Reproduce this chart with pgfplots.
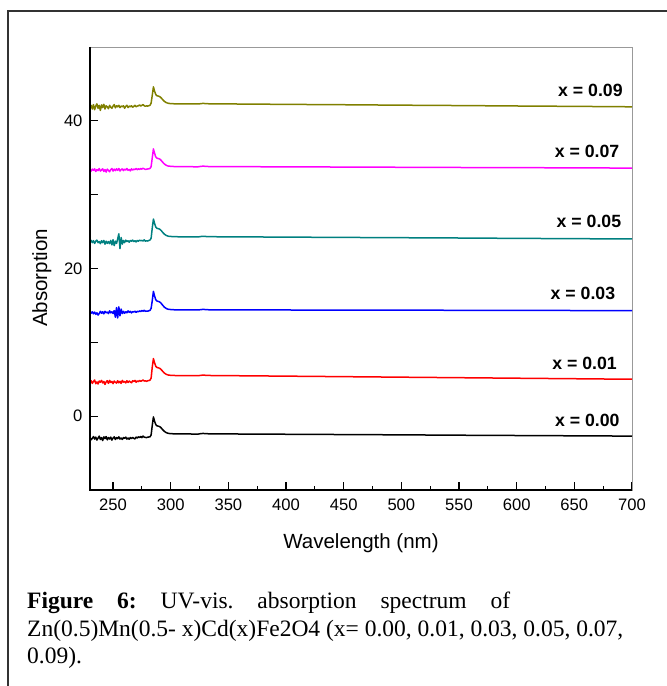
\documentclass[border=0pt]{standalone}
\usepackage{fontspec}
\setmainfont{Liberation Sans}
\newfontfamily\capfont{Liberation Serif}
\usepackage{pgfplots}
\usepackage{pgfplotstable}
\pgfplotsset{compat=1.18}
\definecolor{olivec}{RGB}{128,128,0}
\definecolor{tealc}{RGB}{0,128,128}
\definecolor{magc}{RGB}{255,0,255}

% UV-vis absorption spectra, one column per Cd content (curves stacked by offset)
\pgfplotstableread{
wl   k      r     b      t      m      o
230 -2.90  4.50  14.20  23.60  33.40  41.70
231 -3.20  4.80  13.94  23.80  33.20  42.10
232 -3.00  4.44  14.14  23.50  33.46  41.60
233 -2.76  4.70  13.86  23.76  33.30  42.20
234 -3.10  4.90  14.10  23.40  33.50  41.50
235 -2.84  4.40  13.80  23.70  33.14  42.00
236 -3.24  4.64  14.00  23.84  33.40  42.30
237 -2.96  4.36  13.70  23.50  33.26  41.70
238 -2.70  4.76  13.90  23.64  33.54  42.10
239 -3.16  4.60  14.20  23.36  33.20  41.40
240 -2.90  4.84  13.94  23.76  33.34  42.16
241 -3.30  4.50  14.14  23.50  33.50  41.80
242 -2.80  4.70  13.86  23.80  33.14  42.24
243 -3.04  4.30  14.20  23.30  33.40  41.60
244 -2.76  4.64  14.00  23.70  33.06  42.04
245 -3.20  4.80  14.10  23.40  33.46  41.90
246 -2.90  4.44  13.90  23.64  33.30  41.64
247 -3.10  4.84  14.26  23.36  33.10  42.10
248 -2.84  4.56  14.00  23.80  33.40  41.84
249 -3.24  4.70  14.14  23.20  33.54  41.70
250 -2.96  4.40  13.90  23.90  33.20  42.00
251 -2.80  4.76  14.30  23.10  33.46  42.20
252 -3.16  4.60  13.40  23.70  33.26  41.76
253 -2.90  4.48  14.70  23.40  33.50  42.04
254 -3.04  4.80  13.30  24.00  33.30  41.90
255 -2.80  4.52  14.80  24.70  33.54  42.10
256 -3.10  4.72  13.60  22.70  33.20  41.80
257 -2.96  4.44  14.50  24.20  33.40  42.00
258 -3.16  4.84  13.90  23.30  33.50  41.90
259 -2.90  4.60  14.20  23.80  33.26  42.04
260 -3.00  4.70  13.94  23.50  33.46  41.70
261 -2.84  4.50  14.14  23.84  33.34  41.96
262 -3.10  4.80  14.00  23.64  33.54  42.10
263 -2.96  4.56  14.26  23.76  33.30  41.80
264 -3.12  4.76  14.06  23.56  33.42  42.00
265 -2.90  4.64  14.20  23.80  33.22  41.90
266 -3.04  4.52  13.98  23.70  33.50  42.04
267 -2.88  4.80  14.16  23.84  33.34  41.84
268 -3.00  4.70  14.10  23.64  33.46  41.96
269 -3.08  4.84  14.22  23.76  33.40  42.10
270 -2.84  4.60  14.06  23.60  33.54  41.90
271 -2.96  4.76  14.20  23.80  33.38  42.00
272 -2.80  4.68  14.14  23.70  33.50  42.04
273 -2.90  4.84  14.26  23.84  33.42  42.16
274 -2.76  4.72  14.18  23.76  33.54  42.00
275 -2.90  4.80  14.30  23.80  33.46  42.10
276 -2.70  4.90  14.22  23.72  33.58  42.20
277 -2.84  4.76  14.34  23.88  33.50  42.04
278 -2.88  4.78  14.20  23.70  33.42  41.98
279 -2.90  4.72  14.24  23.76  33.45  42.02
280 -2.85  4.80  14.22  23.72  33.48  42.00
281 -2.82  4.82  14.28  23.80  33.50  42.05
282 -2.80  4.88  14.32  23.85  33.55  42.10
283 -2.55  5.15  14.60  24.10  33.80  42.40
284 -1.25  6.65  15.65  25.50  35.00  43.45
285 -0.10  7.80  16.90  26.70  36.20  44.60
286 -0.68  7.22  16.28  26.10  35.60  44.02
287 -1.13  6.77  15.78  25.62  35.12  43.57
288 -1.30  6.60  15.60  25.45  34.95  43.40
289 -1.34  6.56  15.55  25.40  34.90  43.36
290 -1.39  6.51  15.50  25.36  34.86  43.31
291 -1.48  6.42  15.40  25.26  34.76  43.22
292 -1.64  6.26  15.23  25.09  34.59  43.06
293 -1.83  6.08  15.03  24.90  34.40  42.88
294 -1.99  5.91  14.85  24.73  34.23  42.71
295 -2.12  5.78  14.70  24.59  34.09  42.58
296 -2.22  5.68  14.60  24.49  33.99  42.48
297 -2.28  5.62  14.52  24.42  33.92  42.42
298 -2.33  5.57  14.48  24.37  33.87  42.37
300 -2.37  5.53  14.44  24.34  33.84  42.33
303 -2.39  5.51  14.41  24.31  33.81  42.31
306 -2.40  5.50  14.40  24.30  33.80  42.30
310 -2.40  5.50  14.40  24.30  33.80  42.30
315 -2.41  5.49  14.39  24.29  33.79  42.29
320 -2.42  5.48  14.38  24.28  33.78  42.28
324 -2.42  5.48  14.38  24.28  33.78  42.28
326 -2.37  5.53  14.43  24.33  33.83  42.33
328 -2.34  5.56  14.46  24.36  33.86  42.36
330 -2.36  5.54  14.44  24.34  33.84  42.34
333 -2.39  5.51  14.41  24.31  33.81  42.31
340 -2.40  5.50  14.40  24.30  33.80  42.30
400 -2.45  5.42  14.38  24.25  33.77  42.23
450 -2.49  5.35  14.37  24.21  33.74  42.18
500 -2.53  5.28  14.36  24.17  33.71  42.12
550 -2.58  5.21  14.34  24.13  33.68  42.07
600 -2.62  5.14  14.33  24.08  33.66  42.01
650 -2.66  5.07  14.31  24.04  33.63  41.96
700 -2.70  5.00  14.30  24.00  33.60  41.90
}\spectra

\begin{document}
\frenchspacing
\begin{tikzpicture}[x=1pt,y=1pt]
\useasboundingbox (0,0) rectangle (667,686);
% outer frame of the figure box
\draw[line width=1.6pt, black!80] (8,0) -- (8,675) -- (667,675);
\begin{axis}[
  at={(90pt,196pt)}, anchor=south west,
  scale only axis, width=542pt, height=443pt,
  xmin=230, xmax=700, ymin=-10, ymax=50,
  xtick={250,300,...,700}, minor xtick={275,325,...,675},
  ytick={0,10,20,30,40}, yticklabels={0,,20,,40},
  tick align=inside, xtick pos=bottom, ytick pos=left,
  major tick length=8pt, minor tick length=4pt,
  every tick/.style={black, line width=1.2pt},
  axis line style={black!40, line width=0.8pt},
  /pgf/number format/assume math mode=true,
  tick label style={font=\fontsize{16.6}{20}\selectfont},
  xticklabel style={anchor=base, yshift=-21pt},
  yticklabel style={anchor=east, xshift=-4pt},
  every axis x label/.style={at={(axis description cs:0.5,-0.131)}, anchor=base,
    font=\fontsize{20.5}{24}\selectfont},
  every axis y label/.style={at={(axis description cs:-0.0793,0.479)}, rotate=90, anchor=base,
    font=\fontsize{20.5}{24}\selectfont},
  xlabel={Wavelength (nm)},
  ylabel={Absorption},
  clip=false,
  every axis plot/.append style={line width=1.5pt, line join=round},
]
\addplot[black, no marks] table[x=wl, y=k] {\spectra};
\addplot[red, no marks] table[x=wl, y=r] {\spectra};
\addplot[blue, no marks] table[x=wl, y=b] {\spectra};
\addplot[tealc, no marks] table[x=wl, y=t] {\spectra};
\addplot[magc, no marks] table[x=wl, y=m] {\spectra};
\addplot[olivec, no marks] table[x=wl, y=o] {\spectra};
% heavier left and bottom spines
\draw[black, line width=2pt] (rel axis cs:0,1) -- (rel axis cs:0,0) -- (rel axis cs:1,0);
% series labels
\begin{scope}[every node/.style={anchor=east, inner sep=0pt, font=\fontsize{17.7}{21}\selectfont\bfseries}]
\node at (axis cs:692.1,44.15) {x = 0.09};
\node at (axis cs:689.1,35.85) {x = 0.07};
\node at (axis cs:690.8,26.35) {x = 0.05};
\node at (axis cs:685.6,16.62) {x = 0.03};
\node at (axis cs:687.0,7.20) {x = 0.01};
\node at (axis cs:689.4,-0.64) {x = 0.00};
\end{scope}
\end{axis}
% caption
\begin{scope}[every node/.style={anchor=base west, inner sep=0pt, font=\capfont\fontsize{23.5}{28}\selectfont}]
\node at (27,77) {\makebox[483pt][s]{\textbf{Figure 6:} UV-vis. absorption spectrum of}};
\node at (27,49) {Zn(0.5)Mn(0.5- x)Cd(x)Fe2O4 (x= 0.00, 0.01, 0.03, 0.05, 0.07,};
\node at (27,22) {0.09).};
\end{scope}
\end{tikzpicture}
\end{document}
